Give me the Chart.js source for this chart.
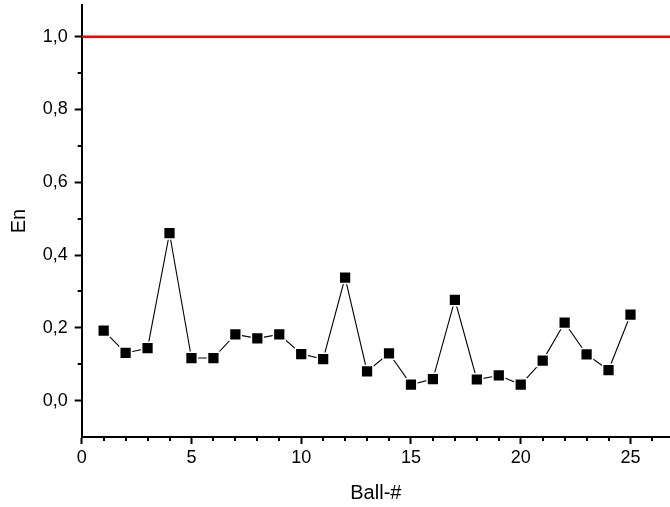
<!DOCTYPE html>
<html>
<head>
<meta charset="utf-8">
<script src="https://cdn.jsdelivr.net/npm/chart.js@4/dist/chart.umd.min.js"></script>
<style>
  html, body { margin: 0; padding: 0; background: #fff; overflow: hidden; }
  #wrap { width: 670px; height: 507px; position: relative; }
</style>
</head>
<body>
<div id="wrap"><canvas id="canvas"></canvas></div>
<script>
// ball numbers and En values
const balls = [1, 2, 3, 4, 5, 6, 7, 8, 9, 10, 11, 12, 13, 14, 15, 16, 17, 18, 19, 20, 21, 22, 23, 24, 25];
const enValues = [0.192, 0.131, 0.144, 0.460, 0.117, 0.117, 0.182, 0.171, 0.182, 0.128, 0.114, 0.338, 0.080,
                  0.130, 0.044, 0.059, 0.277, 0.058, 0.069, 0.044, 0.110, 0.214, 0.127, 0.084, 0.236];
const limitValue = 1.0;
const xRange = [0, 26.8];
const yRange = [-0.1, 1.087];
const xMinorTicks = [1, 2, 3, 4, 6, 7, 8, 9, 11, 12, 13, 14, 16, 17, 18, 19, 21, 22, 23, 24, 26];
const yMinorTicks = [0.1, 0.3, 0.5, 0.7, 0.9];

const fontFamily = "'Liberation Sans', Arial, sans-serif";

// small ticks between the labelled ones (Origin style)
const minorTicks = {
    id: 'minorTicks',
    afterDraw(chart) {
        const ctx = chart.ctx;
        const xs = chart.scales.x, ys = chart.scales.y;
        ctx.save();
        ctx.strokeStyle = '#000';
        ctx.lineWidth = 2;
        ctx.beginPath();
        xMinorTicks.forEach(v => {
            const px = Math.round(xs.getPixelForValue(v));
            ctx.moveTo(px, xs.top);
            ctx.lineTo(px, xs.top + 4);
        });
        yMinorTicks.forEach(v => {
            const py = Math.round(ys.getPixelForValue(v));
            ctx.moveTo(ys.right, py);
            ctx.lineTo(ys.right - 4, py);
        });
        ctx.stroke();
        ctx.restore();
    }
};

const ctx = document.getElementById('canvas').getContext('2d');
const myChart = new Chart(ctx, {
    type: 'scatter',
    data: {
        datasets: [
            {
                label: 'En',
                data: balls.map((b, i) => ({x: b, y: enValues[i]})),
                showLine: true,
                borderColor: '#000',
                borderWidth: 1.1,
                pointStyle: 'rect',
                pointRadius: 8.3,
                pointHoverRadius: 8.3,
                pointBackgroundColor: '#000',
                pointBorderColor: '#fff',
                pointBorderWidth: 1.5,
                order: 1
            },
            {
                label: 'limit',
                data: [{x: xRange[0], y: limitValue}, {x: xRange[1], y: limitValue}],
                showLine: true,
                borderColor: '#ff0000',
                borderWidth: 2.5,
                pointRadius: 0,
                order: 2
            }
        ]
    },
    options: {
        responsive: true,
        maintainAspectRatio: false,
        animation: false,
        events: [],
        layout: { autoPadding: false, padding: { top: 5, right: 0, bottom: 0, left: 0 } },
        plugins: {
            legend: { display: false },
            tooltip: { enabled: false }
        },
        scales: {
            x: {
                type: 'linear',
                min: xRange[0],
                max: xRange[1],
                afterFit(scale) {
                    scale.height = 70;
                    scale.paddingLeft = 0;
                    scale.paddingRight = 0;
                },
                border: { color: '#000', width: 2 },
                grid: { drawOnChartArea: false, tickLength: 7, tickWidth: 2, tickColor: '#000' },
                ticks: {
                    stepSize: 5,
                    includeBounds: false,
                    padding: 3,
                    color: '#000',
                    font: { family: fontFamily, size: 18 },
                    maxRotation: 0
                },
                title: {
                    display: true,
                    text: 'Ball-#',
                    color: '#000',
                    font: { family: fontFamily, size: 20 },
                    padding: { top: 0, bottom: 2 }
                }
            },
            y: {
                type: 'linear',
                min: yRange[0],
                max: yRange[1],
                afterFit(scale) {
                    scale.width = 81.7;
                    scale.paddingTop = 0;
                    scale.paddingBottom = 0;
                },
                border: { color: '#000', width: 2 },
                grid: { drawOnChartArea: false, tickLength: 7, tickWidth: 2, tickColor: '#000' },
                ticks: {
                    stepSize: 0.2,
                    includeBounds: false,
                    padding: 7,
                    color: '#000',
                    font: { family: fontFamily, size: 18 },
                    callback: v => v.toFixed(1).replace('.', ',')
                },
                title: {
                    display: true,
                    text: 'En',
                    color: '#000',
                    font: { family: fontFamily, size: 20 },
                    padding: { top: 7, bottom: 0 }
                }
            }
        }
    },
    plugins: [minorTicks]
});
</script>
</body>
</html>
